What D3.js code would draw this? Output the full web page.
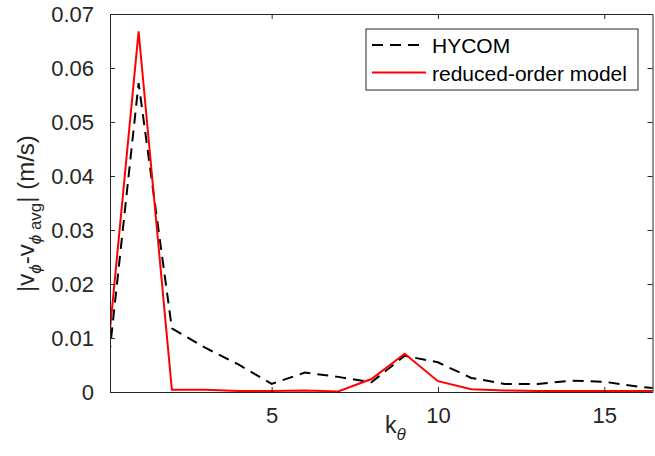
<!DOCTYPE html>
<html>
<head>
<meta charset="utf-8">
<script src="https://cdn.jsdelivr.net/npm/d3@7"></script>
<style>
	html, body { margin: 0; padding: 0; background: white; }
	svg { display: block; font-family: "Liberation Sans", Arial, sans-serif; }
</style>
</head>
<body>
<svg id="chart" width="655" height="456"></svg>
<script>
const kTheta = [0, 1, 2, 3, 4, 5, 6, 7, 8, 9, 10, 11, 12, 13, 14, 15, 16, 17];
const hycom = [0.0000, 0.0572, 0.0118, 0.0082, 0.0051, 0.0015, 0.0036, 0.0028, 0.0018, 0.0067, 0.0055, 0.0026, 0.0015, 0.0015, 0.0021, 0.0019, 0.0010, 0.0004];
const reducedOrder = [0.0025, 0.0668, 0.0004, 0.0004, 0.0002, 0.0002, 0.0003, 0.0001, 0.0024, 0.0071, 0.0020, 0.0005, 0.0003, 0.0002, 0.0002, 0.0002, 0.0002, 0.0002];
const xTicks = [5, 10, 15];
const yTicks = [0, 0.01, 0.02, 0.03, 0.04, 0.05, 0.06, 0.07];
const legendLabels = ["HYCOM", "reduced-order model"];

const margin = { left: 110, right: 2.5, top: 14, bottom: 64 };
const width = 655;
const height = 456;
const axisColor = "#262626";

const svg = d3.select("#chart");

const x = d3.scaleLinear([0.14, 16.45], [margin.left, width - margin.right]);
const y = d3.scaleLinear([0, 0.07], [height - margin.bottom, margin.top]);

svg.append("defs")
	.append("clipPath")
	.attr("id", "plotclip")
	.append("rect")
	.attr("x", x.range()[0])
	.attr("y", y.range()[1])
	.attr("width", x.range()[1] - x.range()[0])
	.attr("height", y.range()[0] - y.range()[1]);

const series = [
	{ name: legendLabels[0], values: hycom, color: "black", dash: "11,7" },
	{ name: legendLabels[1], values: reducedOrder, color: "#ff0000", dash: null },
];

const line = d3
	.line()
	.x((d) => x(d[0]))
	.y((d) => y(d[1]));

svg.append("g")
	.attr("clip-path", "url(#plotclip)")
	.selectAll("path")
	.data(series)
	.join("path")
	.attr("fill", "none")
	.attr("stroke", (d) => d.color)
	.attr("stroke-width", 2)
	.attr("stroke-dasharray", (d) => d.dash)
	.attr("d", (d) => line(kTheta.map((k, i) => [k, d.values[i]])));

// axes: box with inward ticks on all four sides
const tickLen = 5;
const axisStyle = (g) => {
	g.select(".domain").attr("stroke", axisColor);
	g.selectAll(".tick line").attr("stroke", axisColor);
	g.selectAll(".tick text")
		.attr("fill", axisColor)
		.style("font-size", "22px");
};

svg.append("g")
	.attr("transform", `translate(0,${y.range()[0]})`)
	.call(d3.axisBottom(x).tickValues(xTicks).tickSizeInner(-tickLen).tickSizeOuter(0).tickPadding(15))
	.call(axisStyle)
	.call((g) => g.selectAll(".tick text").attr("dy", "0.71em"));

svg.append("g")
	.attr("transform", `translate(0,${y.range()[1]})`)
	.call(d3.axisTop(x).tickValues(xTicks).tickSizeInner(-tickLen).tickSizeOuter(0).tickFormat(""))
	.call(axisStyle);

svg.append("g")
	.attr("transform", `translate(${x.range()[0]},0)`)
	.call(d3.axisLeft(y).tickValues(yTicks).tickSizeInner(-tickLen).tickSizeOuter(0).tickPadding(16).tickFormat((d) => (d === 0 ? "0" : d3.format(".2f")(d))))
	.call(axisStyle);

svg.append("g")
	.attr("transform", `translate(${x.range()[1]},0)`)
	.call(d3.axisRight(y).tickValues(yTicks).tickSizeInner(-tickLen).tickSizeOuter(0).tickFormat(""))
	.call(axisStyle);

// x label: k_theta
const xLabel = svg.append("text")
	.attr("x", 385)
	.attr("y", 433)
	.attr("fill", axisColor)
	.style("font-size", "23px");
xLabel.append("tspan").text("k");
xLabel.append("tspan")
	.attr("dy", 7)
	.style("font-size", "17px")
	.style("font-style", "italic")
	.text("θ");

// y label: |v_phi - v_phi avg| (m/s)
const yLabel = svg.append("text")
	.attr("transform", "translate(34,292) rotate(-90)")
	.attr("fill", axisColor)
	.style("font-size", "24px");
yLabel.append("tspan").text("|v");
yLabel.append("tspan")
	.attr("dy", 7)
	.style("font-size", "17px")
	.style("font-style", "italic")
	.text("ϕ");
yLabel.append("tspan").attr("dy", -7).text("-v");
yLabel.append("tspan")
	.attr("dy", 7)
	.style("font-size", "17px")
	.style("font-style", "italic")
	.text("ϕ");
yLabel.append("tspan")
	.style("font-size", "17px")
	.text(" avg");
yLabel.append("tspan").attr("dy", -7).text("|  (m/s)");

// legend
const legend = svg.append("g");
legend.append("rect")
	.attr("x", 366)
	.attr("y", 29)
	.attr("width", 272)
	.attr("height", 61)
	.attr("fill", "white")
	.attr("stroke", axisColor)
	.attr("stroke-width", 1);

const legendItems = legend
	.selectAll("g")
	.data(series)
	.join("g")
	.attr("transform", (d, i) => `translate(0,${45 + i * 27.5})`);

legendItems.append("line")
	.attr("x1", 372)
	.attr("x2", 426)
	.attr("stroke", (d) => d.color)
	.attr("stroke-width", 2)
	.attr("stroke-dasharray", (d) => d.dash);

legendItems.append("text")
	.attr("x", 432)
	.attr("y", 8)
	.attr("fill", "black")
	.style("font-size", "21px")
	.text((d) => d.name);
</script>
</body>
</html>
